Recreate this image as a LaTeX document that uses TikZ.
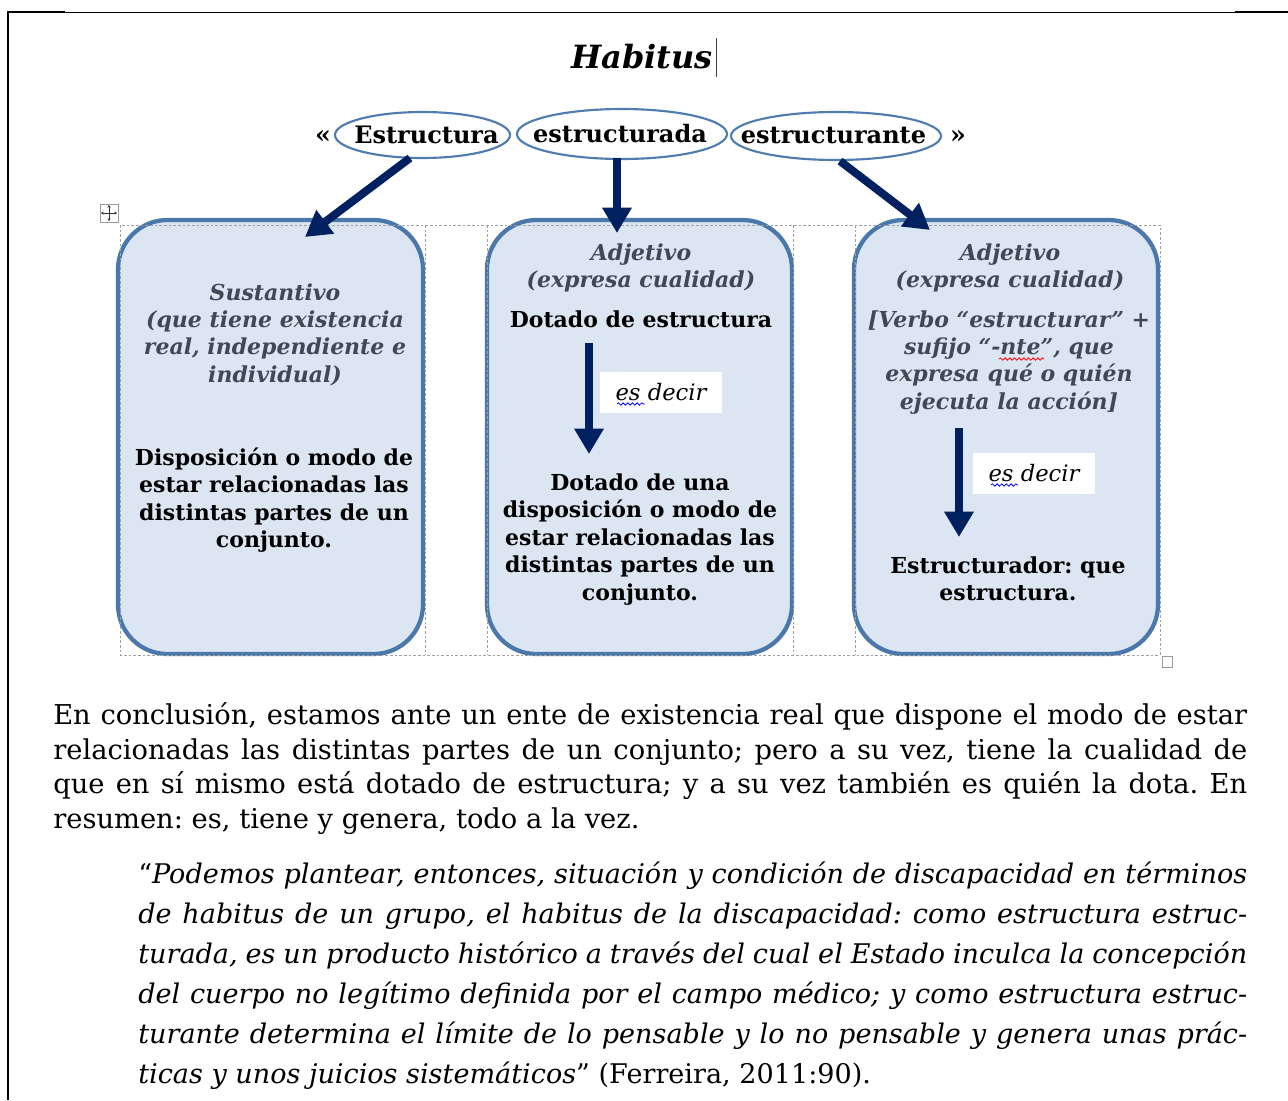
\documentclass[tikz,border=0pt]{standalone}
\usepackage{fontspec}
\setmainfont{DejaVu Serif}
\usetikzlibrary{arrows.meta,shapes.geometric,decorations.pathmorphing}
\definecolor{navy}{HTML}{002060}
\definecolor{boxfill}{HTML}{DCE6F2}
\definecolor{boxline}{HTML}{4A78AA}
\definecolor{ellline}{HTML}{4F7DB0}
\definecolor{slate}{HTML}{3E4859}
\definecolor{gridgray}{HTML}{A0A0A0}
\newcommand\stk[1]{\begin{tabular}[t]{@{}c@{}}#1\end{tabular}}
\frenchspacing
\begin{document}
\begin{tikzpicture}[x=0.75pt,y=-0.75pt,
  bx/.style={draw=boxline,line width=3.2pt,fill=boxfill,rounded corners=37pt,minimum width=228.75pt,minimum height=325.5pt,inner sep=0pt},
  ell/.style={draw=ellline,line width=1.6pt,fill=white,ellipse,inner sep=0pt},
  elltxt/.style={font=\fontsize{18}{22}\selectfont\bfseries,inner sep=0pt},
  bigarrow/.style={draw=navy,line width=6pt,-{Triangle[width=21pt,length=19pt]}},
  itblock/.style={anchor=base,inner sep=0pt,text=slate,font=\fontsize{16.5}{20.6}\selectfont\bfseries\itshape},
  bdblock/.style={anchor=base,inner sep=0pt,text=black,font=\fontsize{16.5}{20.7}\selectfont\bfseries},
  esdecir/.style={fill=white,minimum width=91.5pt,minimum height=30.75pt,inner sep=0pt,font=\fontsize{17}{20}\selectfont\itshape},
  tablegrid/.style={draw=gridgray,line width=0.6pt,dash pattern=on 2pt off 1.5pt},
  spellwave/.style={decorate,decoration={snake,amplitude=0.9pt,segment length=3.5pt},line width=0.6pt},
  para/.style={anchor=base west,inner sep=0pt,font=\fontsize{20.5}{26}\selectfont},
  quot/.style={anchor=base west,inner sep=0pt,font=\fontsize{20.3}{30}\selectfont\itshape},
  guil/.style={font=\fontsize{19}{22}\selectfont\bfseries,inner sep=0pt},
  handle/.style={draw=gray!80,line width=0.6pt,fill=white,inner sep=0pt}
]
\useasboundingbox[fill=white] (0,0) rectangle (1288,1100);
% page frame
\draw[line width=1.5pt] (8,11.5) -- (8,1100);
\draw[line width=1.5pt] (7,12) -- (65,12);
\draw[line width=0.75pt] (65,12) -- (1235,12);
\draw[line width=1.5pt] (1235,12) -- (1288,12);
% title
\node[font=\fontsize{24}{28}\selectfont\bfseries\itshape,inner sep=0pt] (title) at (642,57) {Habitus};
\draw[line width=0.5pt,gray!50!black] (716,38) -- (716,77);
% ellipses
\node[ell,minimum width=131.25pt,minimum height=34.5pt] (ell1) at (422.5,135) {};
\node[elltxt] (t1) at (426.5,135) {Estructura};
\node[ell,minimum width=157.5pt,minimum height=37.5pt] (ell2) at (622,134) {};
\node[elltxt] (t2) at (620,134) {estructurada};
\node[ell,minimum width=157.5pt,minimum height=36pt] (ell3) at (836,136) {};
\node[elltxt] (t3) at (833.5,136) {estructurante};
\node[guil] (lq) at (323,137) {«};
\node[guil] (rq) at (958,137) {»};
% boxes
\node[bx] (b1) at (270.5,437) {};
\node[bx] (b2) at (639.5,437) {};
\node[bx,minimum width=228pt] (b3) at (1006,437) {};
% table grid
\draw[tablegrid] (120,225) rectangle (1160,655);
\foreach \gx in {425,487,793,855} \draw[tablegrid] (\gx,225) -- (\gx,655);
\node[handle,minimum size=13.5pt] (mv) at (109,213) {};
\draw[gray!40!black,line width=0.5pt,{Stealth[length=2pt,width=2.5pt]}-{Stealth[length=2pt,width=2.5pt]}] ([xshift=-6pt]mv.center) -- ([xshift=6pt]mv.center);
\draw[gray!40!black,line width=0.5pt,{Stealth[length=2pt,width=2.5pt]}-{Stealth[length=2pt,width=2.5pt]}] ([yshift=-6pt]mv.center) -- ([yshift=6pt]mv.center);
\node[handle,minimum size=8pt] (rs) at (1167.5,662) {};
% arrows from ellipses
\coordinate (a1s) at (410,158); \coordinate (a1e) at (305,237);
\coordinate (a2s) at (617,158); \coordinate (a2e) at (617,233);
\coordinate (a3s) at (840,161); \coordinate (a3e) at (930,230);
\draw[bigarrow] (a1s) -- (a1e);
\draw[bigarrow] (a2s) -- (a2e);
\draw[bigarrow] (a3s) -- (a3e);
% box 1
\node[itblock] (b1t) at (275,300) {\stk{Sustantivo\\(que tiene existencia\\real, independiente e\\individual)}};
\node[bdblock] (b1b) at (274,465) {\stk{Disposición o modo de\\estar relacionadas las\\distintas partes de un\\conjunto.}};
% box 2
\node[itblock] (b2t) at (641,260) {\stk{Adjetivo\\(expresa cualidad)}};
\node[bdblock] (b2a) at (641,327) {Dotado de estructura};
\coordinate (a4s) at (589,343); \coordinate (a4e) at (589,454);
\draw[bigarrow] (a4s) -- (a4e);
\node[esdecir] (ed1) at (661,392.5) {es decir};
\node[bdblock] (b2b) at (640,490) {\stk{Dotado de una\\disposición o modo de\\estar relacionadas las\\distintas partes de un\\conjunto.}};
% box 3
\node[itblock] (b3t) at (1010,260) {\stk{Adjetivo\\(expresa cualidad)}};
\node[itblock] (b3v) at (1009,327) {\stk{[Verbo “estructurar” +\\sufijo “-nte”, que\\expresa qué o quién\\ejecuta la acción]}};
\coordinate (a5s) at (959,428); \coordinate (a5e) at (959,537);
\draw[bigarrow] (a5s) -- (a5e);
\node[esdecir] (ed2) at (1034,473) {es decir};
\node[bdblock] (b3b) at (1008,573) {\stk{Estructurador: que\\estructura.}};
% spell-check waves
\draw[spellwave,draw=blue] (617,404) -- (645,404);
\draw[spellwave,draw=blue] (991,485) -- (1018,485);
\draw[spellwave,draw=red] (999,359) -- (1044,359);
% paragraph
\node[para] (p1) at (53,724) {\makebox[895.5pt][s]{En conclusión, estamos ante un ente de existencia real que dispone el modo de estar}};
\node[para] (p2) at (53,759) {\makebox[895.5pt][s]{relacionadas las distintas partes de un conjunto; pero a su vez, tiene la cualidad de}};
\node[para] (p3) at (53,793) {\makebox[895.5pt][s]{que en sí mismo está dotado de estructura; y a su vez también es quién la dota. En}};
\node[para] (p4) at (53,828) {resumen: es, tiene y genera, todo a la vez.};
% quotation
\node[quot] (q1) at (138,883) {\makebox[831.75pt][s]{{\upshape “}Podemos plantear, entonces, situación y condición de discapacidad en términos}};
\node[quot] (q2) at (138,923) {\makebox[831.75pt][s]{de habitus de un grupo, el habitus de la discapacidad: como estructura estruc-}};
\node[quot] (q3) at (138,963) {\makebox[831.75pt][s]{turada, es un producto histórico a través del cual el Estado inculca la concepción}};
\node[quot] (q4) at (138,1003) {\makebox[831.75pt][s]{del cuerpo no legítimo definida por el campo médico; y como estructura estruc-}};
\node[quot] (q5) at (138,1043) {\makebox[831.75pt][s]{turante determina el límite de lo pensable y lo no pensable y genera unas prác-}};
\node[quot] (q6) at (138,1083) {ticas y unos juicios sistemáticos{\upshape ” (Ferreira, 2011:90).}};
\end{tikzpicture}
\end{document}
